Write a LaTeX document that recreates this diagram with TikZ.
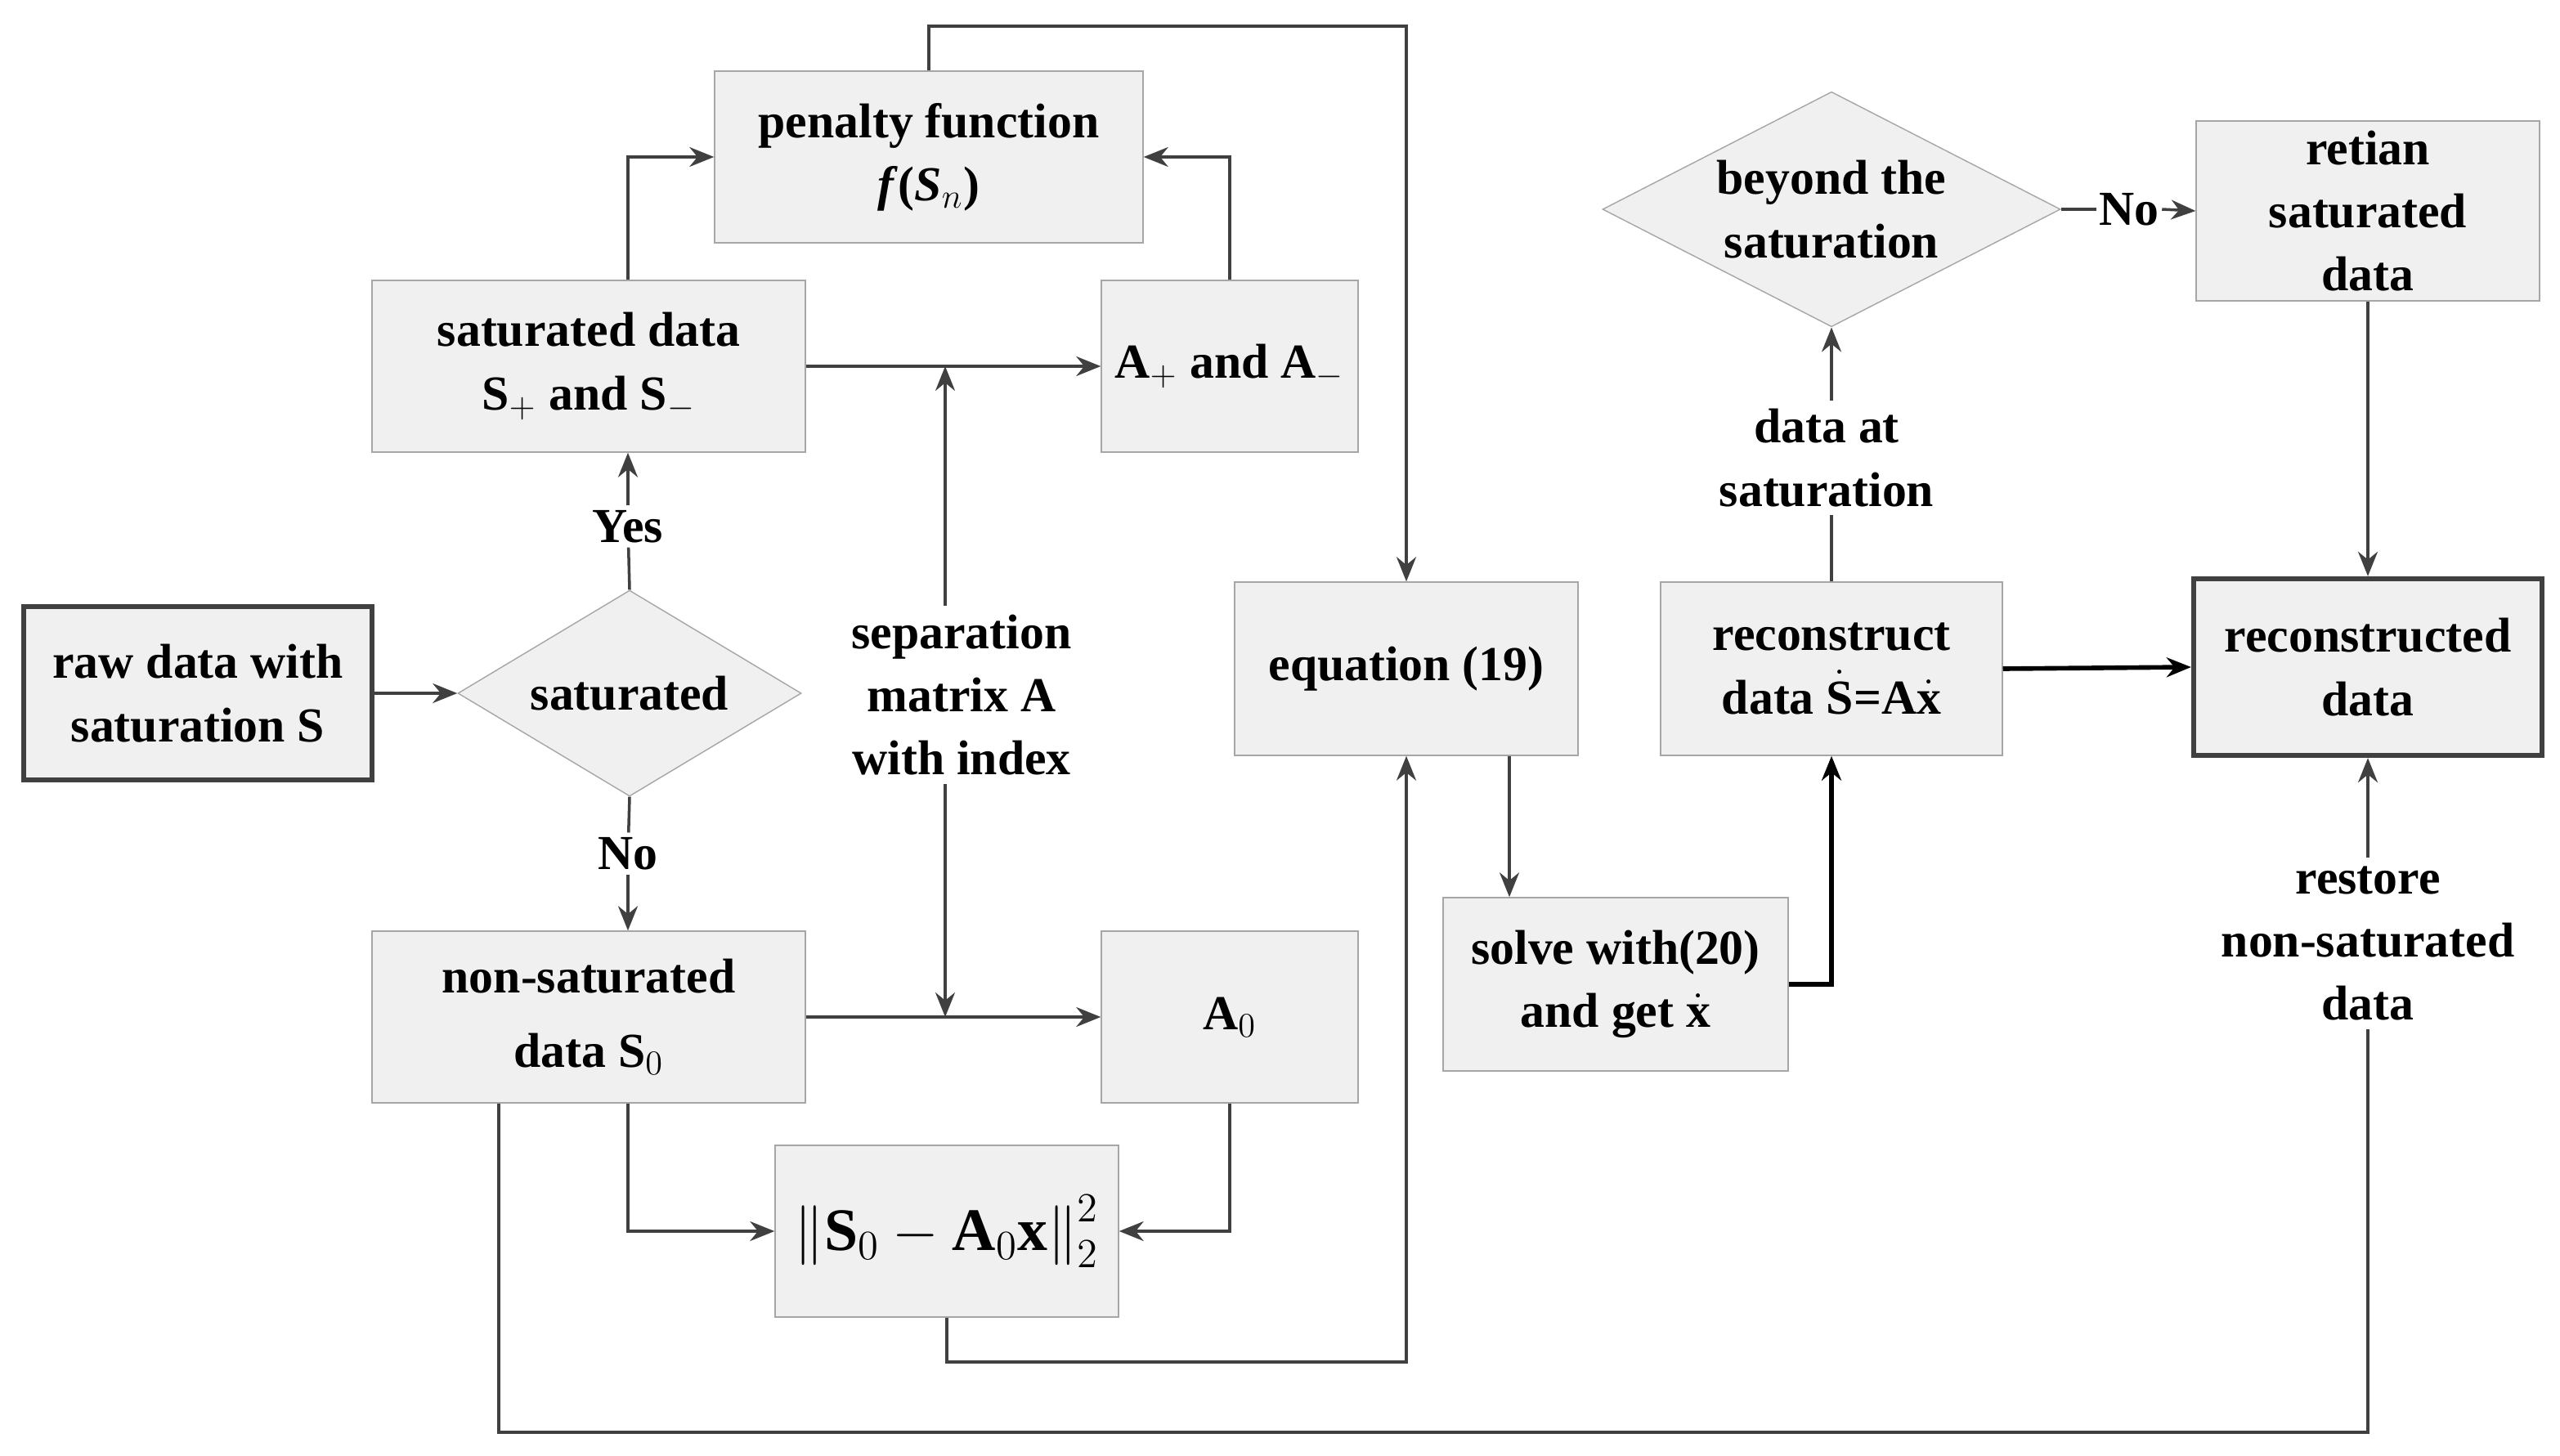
\documentclass[tikz,border=0pt]{standalone}
\usepackage{fontspec}
\setmainfont{Liberation Serif}
\usetikzlibrary{arrows.meta, shapes.geometric}
\definecolor{boxfill}{HTML}{F0F0F0}
\definecolor{linegray}{HTML}{404040}
\tikzset{
  box/.style={draw=gray!70, fill=boxfill, align=center, inner sep=1mm,
    font=\bfseries\fontsize{17}{22}\selectfont},
  bigbox/.style={box, draw=linegray, line width=1.8pt},
  dia/.style={box, diamond, aspect=1.67, inner sep=0mm},
  lbl/.style={align=center, inner sep=1mm, font=\bfseries\fontsize{17}{22}\selectfont},
  flow/.style={draw=linegray, line width=1pt, -{Stealth[length=3mm,width=2.4mm]}},
  plain/.style={draw=linegray, line width=1pt},
  heavy/.style={flow, line width=1.6pt, draw=black}
}
\begin{document}
\begin{tikzpicture}[x=0.2mm, y=-0.2mm]
\useasboundingbox (0,0) rectangle (1565.5,890.5);
% boxes
\node[bigbox, minimum width=42.6mm, minimum height=21.2mm] (raw) at (121,424) {raw data with\\saturation S};
\node[dia, minimum width=42mm, minimum height=25.2mm] (sat) at (385,424) {saturated};
\node[box, minimum width=53mm, minimum height=21mm] (satdata) at (360,224) {saturated data\\S$_+$ and S$_-$};
\node[box, minimum width=52.4mm, minimum height=21mm] (pen) at (568,96) {penalty function\\\textit{f}(\textit{S$_n$})};
\node[box, minimum width=31.4mm, minimum height=21mm] (apm) at (752,224) {A$_+$ and A$_-$};
\node[lbl] (sep) at (588,425) {separation\\matrix A\\with index};
\node[box, minimum width=53mm, minimum height=21mm] (nonsat) at (360,622) {non-saturated\\[4pt]data S$_0$};
\node[box, minimum width=31.4mm, minimum height=21mm] (azero) at (752,622) {A$_0$};
\node[box, minimum width=42mm, minimum height=21mm, inner sep=0.5mm, font=\fontsize{21}{26}\selectfont] (norm) at (579,753) {$\left\|\mathbf{S}_0-\mathbf{A}_0\mathbf{x}\right\|_2^2$};
\node[box, minimum width=42mm, minimum height=21.2mm] (eq) at (860,409) {equation (19)};
\node[box, minimum width=42.2mm, minimum height=21.2mm] (solve) at (988,602) {solve with(20)\\and get $\dot{\mathbf{x}}$};
\node[box, minimum width=41.8mm, minimum height=21.2mm] (recon) at (1120,409) {reconstruct\\data $\dot{\mathbf{S}}$=A$\dot{\mathbf{x}}$};
\node[dia, minimum width=56mm, minimum height=27.6mm] (beyond) at (1120,128) {beyond the\\saturation};
\node[box, minimum width=42mm, minimum height=22mm] (retain) at (1448,129) {retian\\saturated\\data};
\node[bigbox, minimum width=42.6mm, minimum height=21.6mm] (result) at (1448,408) {reconstructed\\data};
\node[lbl] (atsat) at (1117,280) {data at\\saturation};
\node[lbl] (restore) at (1448,577) {restore\\non-saturated\\data};
\node[lbl, fill=white, inner sep=0.5mm] (yes) at (384,322) {Yes};
\node[lbl, fill=white, inner sep=0.5mm] (no) at (384,522) {No};
\node[lbl, fill=white, inner sep=0.3mm] (no2) at (1302,128) {No};
% connectors
\draw[flow] (raw) -- (sat);
\draw[plain] (sat.north) -- (yes);
\draw[flow] (yes) -- (yes |- satdata.south);
\draw[plain] (sat.south) -- (no);
\draw[flow] (no) -- (no |- nonsat.north);
\draw[flow] (satdata.north -| yes) |- (pen.west);
\draw[flow] (apm.north) |- (pen.east);
\draw[flow] (satdata.east) -- (apm.west);
\draw[flow] (nonsat.east) -- (azero.west);
\draw[flow] (sep.north -| 578,0) -- (578,224);
\draw[flow] (sep.south -| 578,0) -- (578,622);
\draw[flow] (nonsat.south -| no) |- (norm.west);
\draw[flow] (azero.south) |- (norm.east);
\draw[flow] (norm.south) -- (579,833) -| (eq.south);
\draw[flow] (pen.north) -- (568,16) -| (eq.north);
\draw[flow] (eq.south -| 923,0) -- (solve.north -| 923,0);
\draw[heavy] (solve.east) -| (recon.south);
\draw[plain] (recon.north) -- (atsat.south -| recon.north);
\draw[flow] (atsat.north -| beyond.south) -- (beyond.south);
\draw[plain] (beyond.east) -- (no2.west);
\draw[flow] (no2.east) -- (retain.west);
\draw[flow] (retain.south) -- (result.north);
\draw[heavy] (recon.east) -- (result.west);
\draw[plain] (nonsat.south -| 305,0) -- (305,876) -| (restore.south);
\draw[flow] (restore.north) -- (result.south);
\end{tikzpicture}
\end{document}
